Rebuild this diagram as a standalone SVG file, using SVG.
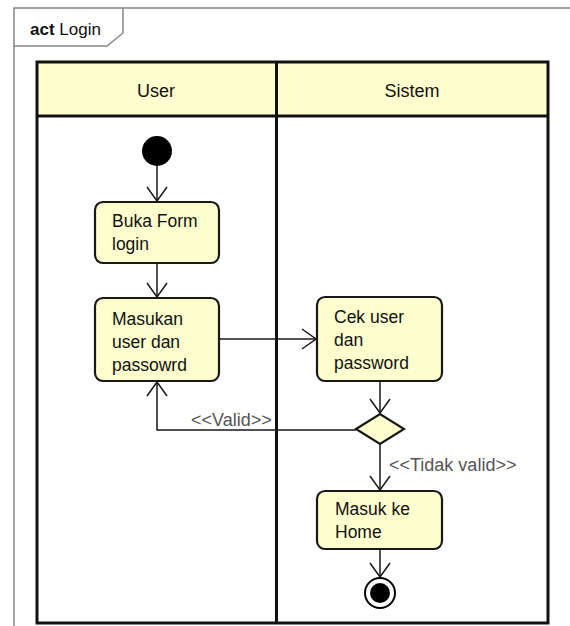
<svg xmlns="http://www.w3.org/2000/svg" width="570" height="626" viewBox="0 0 570 626">
  <defs>
    <marker id="open" viewBox="0 0 16 22" refX="15" refY="11" markerWidth="16" markerHeight="22" markerUnits="userSpaceOnUse" orient="auto">
      <path d="M1,1 L15,11 L1,21" fill="none" stroke="#181818" stroke-width="1.5"/>
    </marker>
  </defs>
  <style>
    .frame { fill: none; stroke: #888888; stroke-width: 1.5; }
    .lane { fill: none; stroke: #111111; stroke-width: 3; }
    .head { fill: #FEFECE; stroke: none; }
    .box { fill: #FEFECE; stroke: #181818; stroke-width: 2.2; }
    .edge { fill: none; stroke: #181818; stroke-width: 1.5; }
    .t { font-family: "Liberation Sans", Arial, sans-serif; font-size: 17.5px; fill: #111111; }
    .h { font-family: "Liberation Sans", Arial, sans-serif; font-size: 18px; fill: #111111; text-anchor: middle; }
    .lbl { font-family: "Liberation Sans", Arial, sans-serif; font-size: 18px; fill: #555555; }
  </style>
  <rect width="570" height="626" fill="#ffffff"/>

  <!-- diagram frame with title tab -->
  <g id="frame">
    <path class="frame" d="M14,640 L14,8 L580,8"/>
    <path class="frame" d="M14,46 L107,46 L123,33 L123,8"/>
    <text x="30" y="35" font-family="Liberation Sans, Arial, sans-serif" font-size="17px" fill="#111111"><tspan font-weight="bold">act</tspan> Login</text>
  </g>

  <!-- swimlanes -->
  <g id="lanes">
    <rect class="head" x="37" y="62" width="511" height="54"/>
    <rect class="lane" x="37" y="62" width="511" height="561"/>
    <line class="lane" x1="37" y1="116" x2="548" y2="116"/>
    <line class="lane" x1="276.5" y1="62" x2="276.5" y2="623"/>
    <text class="h" x="156" y="97">User</text>
    <text class="h" x="412" y="97">Sistem</text>
  </g>

  <!-- connectors -->
  <g id="connectors">
    <line class="edge" x1="157" y1="166" x2="157" y2="201" marker-end="url(#open)"/>
    <line class="edge" x1="157" y1="263" x2="157" y2="297" marker-end="url(#open)"/>
    <line class="edge" x1="219" y1="339" x2="316" y2="339" marker-end="url(#open)"/>
    <line class="edge" x1="380" y1="381" x2="380" y2="413" marker-end="url(#open)"/>
    <path class="edge" d="M356,430 L157,430 L157,382" marker-end="url(#open)"/>
    <line class="edge" x1="380" y1="444" x2="380" y2="490" marker-end="url(#open)"/>
    <line class="edge" x1="380" y1="549" x2="380" y2="577" marker-end="url(#open)"/>
    <text class="lbl" x="191" y="426">&lt;&lt;Valid&gt;&gt;</text>
    <text class="lbl" x="389" y="471">&lt;&lt;Tidak valid&gt;&gt;</text>
  </g>

  <g id="start">
    <circle cx="157" cy="151" r="15" fill="#000000"/>
  </g>

  <g id="buka-form">
    <rect class="box" x="95" y="202" width="124" height="61" rx="8"/>
    <text class="t" x="112" y="227">Buka Form</text>
    <text class="t" x="112" y="250">login</text>
  </g>

  <g id="masukan">
    <rect class="box" x="95" y="298" width="124" height="83" rx="8"/>
    <text class="t" x="112" y="325">Masukan</text>
    <text class="t" x="112" y="348">user dan</text>
    <text class="t" x="112" y="371">passowrd</text>
  </g>

  <g id="cek-user">
    <rect class="box" x="317" y="297" width="125" height="84" rx="8"/>
    <text class="t" x="334" y="323">Cek user</text>
    <text class="t" x="334" y="346">dan</text>
    <text class="t" x="334" y="369">password</text>
  </g>

  <g id="decision">
    <polygon class="box" points="356,429 380,414 404,429 380,444"/>
  </g>

  <g id="masuk-home">
    <rect class="box" x="317" y="491" width="125" height="58" rx="8"/>
    <text class="t" x="335" y="515">Masuk ke</text>
    <text class="t" x="335" y="538">Home</text>
  </g>

  <g id="end">
    <circle cx="380" cy="593" r="15" fill="#ffffff" stroke="#000000" stroke-width="2"/>
    <circle cx="380" cy="593" r="10" fill="#000000"/>
  </g>
</svg>
